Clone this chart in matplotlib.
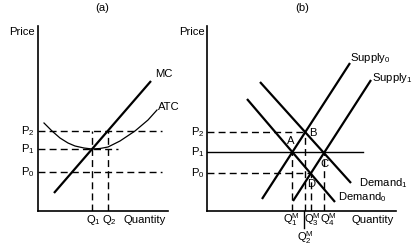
import matplotlib
matplotlib.use("Agg")
import matplotlib.pyplot as plt

plt.rcParams['font.family'] = ['Liberation Sans', 'DejaVu Sans']
plt.rcParams['mathtext.fontset'] = 'custom'
plt.rcParams['mathtext.rm'] = 'Liberation Sans'
plt.rcParams['mathtext.it'] = 'Liberation Sans:italic'
plt.rcParams['mathtext.default'] = 'regular'

# ---- panel (a): firm ----
a_prices = [39, 62, 80]            # P0, P1, P2
a_price_labels = ['P$_0$', 'P$_1$', 'P$_2$']
a_qty = [54, 70]                   # Q1, Q2
a_qty_labels = ['Q$_1$', 'Q$_2$']
mc_q = [16, 113]
mc_p = [18, 130]
atc_q = [6, 14, 22, 30, 37, 46, 54, 62, 70, 82, 97, 110, 119]
atc_p = [88, 80, 73, 68, 65, 63, 62, 62.5, 64, 70, 80, 91, 101]

# ---- panel (b): market ----
b_prices = [38, 59, 79]            # P0, P1, P2
b_price_labels = ['P$_0$', 'P$_1$', 'P$_2$']
supply0_q, supply0_p = [55, 143], [12, 148]
supply1_q, supply1_p = [86, 164], [10, 131]
demand0_q, demand0_p = [40, 128], [112, 9]
demand1_q, demand1_p = [53, 144], [129, 28]
points = {'A': (85, 59), 'B': (98, 79), 'C': (117, 59), 'D': (104, 38)}
b_qty = [85, 98, 104, 117]         # Q1M, Q2M, Q3M, Q4M

FS = 8.1
W, H = 413, 252
fig = plt.figure(figsize=(W / 100, H / 100), dpi=100)

def make_axes(x0, y0, w, h):
	ax = fig.add_axes([x0 / W, (H - y0) / H, w / W, h / H])
	ax.set_xlim(0, w)
	ax.set_ylim(0, h)
	for s in ['top', 'right']:
		ax.spines[s].set_visible(False)
	for s in ['left', 'bottom']:
		ax.spines[s].set_linewidth(1.2)
	ax.set_xticks([])
	ax.set_yticks([])
	ax.patch.set_alpha(0)
	return ax

dash = dict(color='black', lw=1.0, ls=(0, (5, 3)))

# panel a
ax = make_axes(38, 211, 130, 185)
ax.plot(mc_q, mc_p, color='black', lw=1.6, solid_capstyle='butt')
ax.plot(atc_q, atc_p, color='black', lw=0.9)
ax.plot([0, 124], [a_prices[2]] * 2, **dash)
ax.plot([0, 80], [a_prices[1]] * 2, **dash)
ax.plot([0, 124], [a_prices[0]] * 2, **dash)
for q in a_qty:
	ax.plot([q, q], [0, a_prices[2]], **dash)
for p, lab in zip(a_prices, a_price_labels):
	ax.text(-3, p, lab, ha='right', va='center', fontsize=FS)
for q, lab in zip(a_qty, a_qty_labels):
	ax.text(q + 1, -9, lab, ha='center', va='center', fontsize=FS)
ax.text(-3, 179, 'Price', ha='right', va='center', fontsize=FS, clip_on=False)
ax.text(85, -9, 'Quantity', ha='left', va='center', fontsize=FS)
ax.text(117, 137, 'MC', ha='left', va='center', fontsize=FS)
ax.text(120, 104, 'ATC', ha='left', va='center', fontsize=FS)
ax.text(64, 203, '(a)', ha='center', va='center', fontsize=FS)

# panel b
bx = make_axes(207, 211, 189, 185)
for q, p in [(supply0_q, supply0_p), (supply1_q, supply1_p),
			 (demand0_q, demand0_p), (demand1_q, demand1_p)]:
	bx.plot(q, p, color='black', lw=1.6, solid_capstyle='butt')
bx.plot([0, 156], [b_prices[1]] * 2, color='black', lw=1.0)
bx.plot([0, points['B'][0]], [b_prices[2]] * 2, **dash)
bx.plot([0, points['D'][0]], [b_prices[0]] * 2, **dash)
for name in ['A', 'B', 'D', 'C']:
	q, p = points[name]
	bx.plot([q, q], [0, p], **dash)
bx.plot([b_qty[1] - 1] * 2, [0, -17], color='black', lw=1.0, clip_on=False)
for p, lab in zip(b_prices, b_price_labels):
	bx.text(-2, p, lab, ha='right', va='center', fontsize=FS)
bx.text(-2, 179, 'Price', ha='right', va='center', fontsize=FS)
bx.text(95, 203, '(b)', ha='center', va='center', fontsize=FS)
bx.text(143, 153, 'Supply$_0$', ha='left', va='center', fontsize=FS)
bx.text(165, 133, 'Supply$_1$', ha='left', va='center', fontsize=FS)
bx.text(152, 28, 'Demand$_1$', ha='left', va='center', fontsize=FS)
bx.text(131, 14, 'Demand$_0$', ha='left', va='center', fontsize=FS)
offsets = {'A': (-1, 11), 'B': (8, -1), 'C': (0, -12), 'D': (0, -11)}
for name, (dq, dp) in offsets.items():
	q, p = points[name]
	bx.text(q + dq, p + dp, name, ha='center', va='center', fontsize=FS)
bx.text(b_qty[0] - 1, -9, '$Q_1^M$', ha='center', va='center', fontsize=FS)
bx.text(b_qty[2] + 1, -9, '$Q_3^M$', ha='center', va='center', fontsize=FS)
bx.text(b_qty[3] + 4, -9, '$Q_4^M$', ha='center', va='center', fontsize=FS)
bx.text(b_qty[1], -27, '$Q_2^M$', ha='center', va='center', fontsize=FS)
bx.text(145, -9, 'Quantity', ha='left', va='center', fontsize=FS)

fig.savefig('out.png', dpi=100)
